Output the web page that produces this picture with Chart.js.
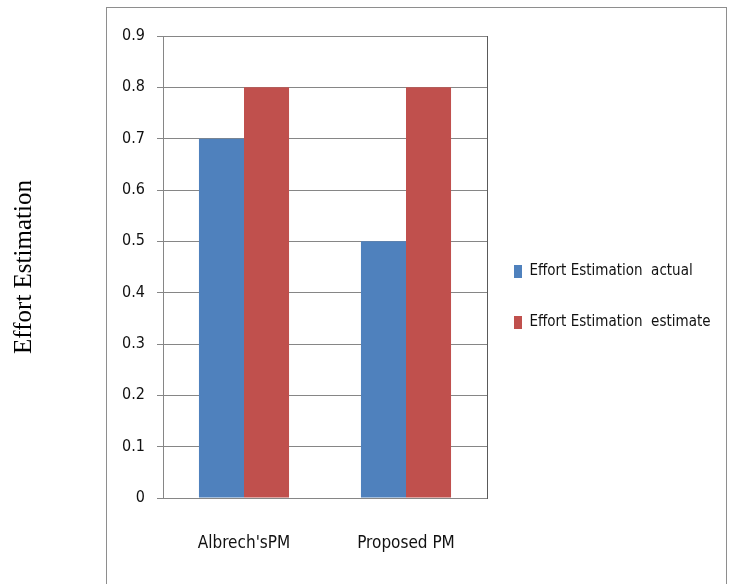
<!DOCTYPE html>
<html>
<head>
<meta charset="utf-8">
<script src="https://cdn.jsdelivr.net/npm/chart.js@4/dist/chart.umd.min.js"></script>
<style>
html,body{margin:0;padding:0;background:#fff;}
#wrap{position:relative;width:731px;height:584px;}
</style>
</head>
<body>
<div id="wrap"><canvas id="c" width="731" height="584"></canvas></div>
<script>
const categories = ["Albrech'sPM", "Proposed PM"];
const seriesNames = ["Effort Estimation  actual", "Effort Estimation  estimate"];
const actualValues = [0.7, 0.5];
const estimateValues = [0.8, 0.8];
const yTickLabels = ["0", "0.1", "0.2", "0.3", "0.4", "0.5", "0.6", "0.7", "0.8", "0.9"];
const yAxisTitle = "Effort Estimation";

const NARROW = "'Liberation Sans Narrow', 'Arial Narrow', 'DejaVu Sans Condensed', sans-serif";

const outerBox = {
  id: 'outerBox',
  beforeDraw(chart) {
    const ctx = chart.ctx;
    ctx.save();
    ctx.strokeStyle = '#8e8e8e';
    ctx.lineWidth = 1;
    ctx.strokeRect(106.5, 7.5, 620, 620);
    ctx.restore();
  }
};

const legendFix = {
  id: 'legendFix',
  beforeLayout(chart) {
    const lg = chart.legend;
    if (lg && !lg._patched) {
      const orig = lg.fit;
      lg.fit = function () { orig.call(this); this.width = 244; };
      lg._patched = true;
    }
  },
  afterLayout(chart) {
    const lg = chart.legend;
    if (!lg) return;
    lg.left -= 9; lg.right -= 9;
    lg.top -= 13; lg.bottom -= 13;
  }
};

new Chart(document.getElementById('c'), {
  type: 'bar',
  data: {
    labels: categories,
    datasets: [
      { label: seriesNames[0], data: actualValues, backgroundColor: '#4F81BD', borderWidth: 0 },
      { label: seriesNames[1], data: estimateValues, backgroundColor: '#C0504D', borderWidth: 0 }
    ]
  },
  options: {
    responsive: false,
    animation: false,
    devicePixelRatio: 1,
    layout: { padding: { top: 36, left: 0, right: 0, bottom: 0 } },
    datasets: { bar: { categoryPercentage: 0.556, barPercentage: 1.0 } },
    scales: {
      x: {
        grid: { display: false, drawTicks: false },
        border: { display: true, color: '#868686', width: 1 },
        ticks: { color: '#111', font: { family: NARROW, size: 17 }, padding: 35, maxRotation: 0 },
        afterFit(scale) { scale.height = 86; }
      },
      y: {
        min: 0, max: 0.9,
        grid: { color: '#868686', lineWidth: 1, tickLength: 6, drawTicks: true },
        border: { display: true, color: '#868686', width: 1 },
        ticks: {
          stepSize: 0.1, color: '#111', padding: 12,
          font: { family: NARROW, size: 16 },
          callback: (v, i) => yTickLabels[i]
        },
        title: {
          display: true, text: yAxisTitle, color: '#000',
          font: { family: "'Liberation Serif', 'Times New Roman', serif", size: 25 },
          padding: { top: 9, bottom: 0 }
        },
        afterFit(scale) { scale.width = 163; }
      },
      yRight: {
        position: 'right', min: 0, max: 0.9,
        grid: { display: false, drawTicks: false },
        border: { display: true, color: '#5a5a5a', width: 1 },
        ticks: { display: false },
        afterFit(scale) { scale.width = 0; }
      }
    },
    plugins: {
      legend: {
        position: 'right', align: 'center',
        labels: {
          color: '#111', boxWidth: 8, boxHeight: 13, padding: 36,
          font: { family: NARROW, size: 15 }
        }
      },
      tooltip: { enabled: false },
      title: { display: false }
    }
  },
  plugins: [outerBox, legendFix]
});
</script>
</body>
</html>
